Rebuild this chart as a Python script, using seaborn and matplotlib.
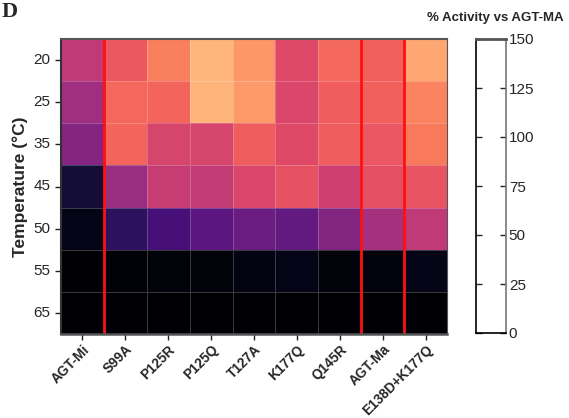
import matplotlib
matplotlib.use("Agg")
import matplotlib.pyplot as plt
import seaborn as sns
import numpy as np
import pandas as pd

variants = ["AGT-Mi", "S99A", "P125R", "P125Q", "T127A", "K177Q", "Q145R", "AGT-Ma", "E138D+K177Q"]
temperatures = ["20", "25", "35", "45", "50", "55", "65"]

t20 = [78, 97, 110, 127, 117, 90, 103, 100, 122]
t25 = [67, 102, 101, 126, 118, 89, 99, 100, 111]
t35 = [57, 101, 87, 87, 99, 90, 99, 96, 108]
t45 = [15, 65, 81, 80, 89, 94, 84, 93, 95]
t50 = [6, 25, 34, 42, 47, 44, 56, 69, 78]
t55 = [1, 2, 3, 3, 5, 6, 3, 4, 7]
t65 = [0, 0, 0, 0, 0, 0, 0, 0, 0]

red_line_positions = [1, 7, 8]
cbar_ticks = [0, 25, 50, 75, 100, 125, 150]

df = pd.DataFrame([t20, t25, t35, t45, t50, t55, t65], index=temperatures, columns=variants)

sns.set_style("white")
plt.rcParams["font.family"] = ["Liberation Sans", "DejaVu Sans"]

fig = plt.figure(figsize=(5.69, 4.18), dpi=100)
ax = fig.add_axes([61 / 569, 1 - 334 / 418, (447 - 61) / 569, (334 - 39) / 418])
cax = fig.add_axes([476 / 569, 1 - 333 / 418, 30 / 569, (333 - 39) / 418])

sns.heatmap(df, ax=ax, cmap="magma", vmin=0, vmax=150, cbar_ax=cax,
            linewidths=0.6, linecolor=(1, 1, 1, 0.22),
            cbar_kws={"ticks": cbar_ticks})

for x in red_line_positions:
    ax.axvline(x, color="#ff1010", lw=2)

for side in ["left", "bottom", "top", "right"]:
    ax.spines[side].set_visible(True)
ax.spines["left"].set_color("#333333")
ax.spines["left"].set_linewidth(1.5)
ax.spines["bottom"].set_color("#555555")
ax.spines["bottom"].set_linewidth(1.8)
ax.spines["top"].set_color("#555555")
ax.spines["top"].set_linewidth(1.5)
ax.spines["right"].set_color("#555555")
ax.spines["right"].set_linewidth(0.8)

ax.tick_params(axis="both", which="major", length=4, width=1, direction="out",
               bottom=True, left=True, color="#222222")
ax.tick_params(axis="x", pad=2)
ax.set_yticklabels(temperatures, rotation=0, fontsize=11)
ax.set_xticklabels(variants, rotation=45, ha="right", rotation_mode="anchor",
                   fontsize=9.8, fontweight="bold")
ax.set_xlabel("")
ax.set_ylabel("Temperature (\u00b0C)", fontsize=12.5, fontweight="bold", labelpad=4)

cbar = ax.collections[0].colorbar
cbar.solids.set_visible(False)
cbar.outline.set_visible(False)
for side in ["left", "bottom"]:
    cax.spines[side].set_visible(True)
    cax.spines[side].set_color("black")
    cax.spines[side].set_linewidth(1.2)
cax.spines["top"].set_visible(True)
cax.spines["top"].set_color("#555555")
cax.spines["top"].set_linewidth(2)
cax.spines["right"].set_visible(True)
cax.spines["right"].set_color("#777777")
cax.spines["right"].set_linewidth(1.2)
cax.tick_params(axis="y", direction="in", left=True, right=True, labelleft=False,
                labelright=True, length=4, width=1, labelsize=11, pad=2)

fig.text(0.003, 0.995, "D", fontsize=16, fontweight="bold",
         family=["Liberation Serif", "DejaVu Serif"], ha="left", va="top")
fig.text(495 / 569, 1 - 18 / 418, "% Activity vs AGT-MA", fontsize=9.5,
         fontweight="bold", ha="center", va="center")

fig.savefig("out.png", dpi=100)
